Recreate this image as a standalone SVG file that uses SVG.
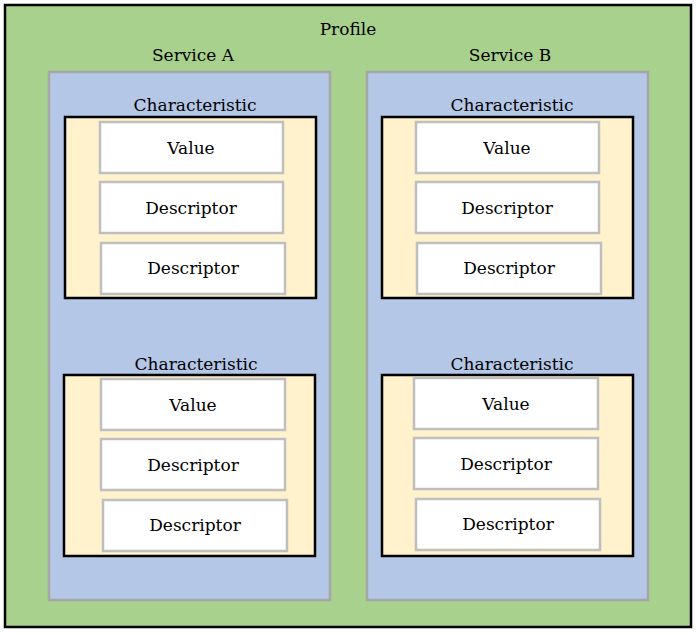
<svg xmlns="http://www.w3.org/2000/svg" width="696" height="633" viewBox="0 0 696 633">
<style>
text{font-family:"DejaVu Serif","Liberation Serif",serif;font-size:17px;text-anchor:middle;fill:#000}
.svc{fill:#b4c7e7;stroke:#a6a6a6;stroke-width:2.5}
.ch{fill:#fff2cc;stroke:#000;stroke-width:2.5}
.bx{fill:#fff;stroke:#bfbfbf;stroke-width:2.5}
</style>
<g id="profile"><rect x="5" y="5" width="686" height="622" fill="#a9d18e" stroke="#000" stroke-width="2.5"/><text x="348" y="35">Profile</text></g>
<g id="serviceA"><rect class="svc" x="49" y="72" width="281" height="528"/><text x="193" y="61">Service A</text></g>
<g id="serviceB"><rect class="svc" x="367" y="72" width="281" height="528"/><text x="510" y="61">Service B</text></g>
<g id="charA1"><text x="195" y="111">Characteristic</text><rect class="ch" x="65" y="117" width="251" height="181"/>
<rect class="bx" x="100" y="122" width="183" height="51"/><text x="191" y="154">Value</text>
<rect class="bx" x="100" y="182" width="183" height="51"/><text x="191" y="214">Descriptor</text>
<rect class="bx" x="101" y="243" width="184" height="51"/><text x="193" y="274">Descriptor</text></g>
<g id="charA2"><text x="196" y="370">Characteristic</text><rect class="ch" x="64" y="375" width="251" height="181"/>
<rect class="bx" x="101" y="379" width="184" height="51"/><text x="193" y="411">Value</text>
<rect class="bx" x="101" y="439" width="184" height="51"/><text x="193" y="471">Descriptor</text>
<rect class="bx" x="103" y="500" width="184" height="51"/><text x="195" y="531">Descriptor</text></g>
<g id="charB1"><text x="512" y="111">Characteristic</text><rect class="ch" x="382" y="117" width="251" height="181"/>
<rect class="bx" x="416" y="122" width="183" height="51"/><text x="507" y="154">Value</text>
<rect class="bx" x="416" y="182" width="183" height="51"/><text x="507" y="214">Descriptor</text>
<rect class="bx" x="417" y="243" width="184" height="51"/><text x="509" y="274">Descriptor</text></g>
<g id="charB2"><text x="512" y="370">Characteristic</text><rect class="ch" x="382" y="375" width="251" height="181"/>
<rect class="bx" x="414" y="378" width="184" height="51"/><text x="506" y="410">Value</text>
<rect class="bx" x="414" y="438" width="184" height="51"/><text x="506" y="470">Descriptor</text>
<rect class="bx" x="416" y="499" width="184" height="51"/><text x="508" y="530">Descriptor</text></g>
<g id="connectors"/>
</svg>
